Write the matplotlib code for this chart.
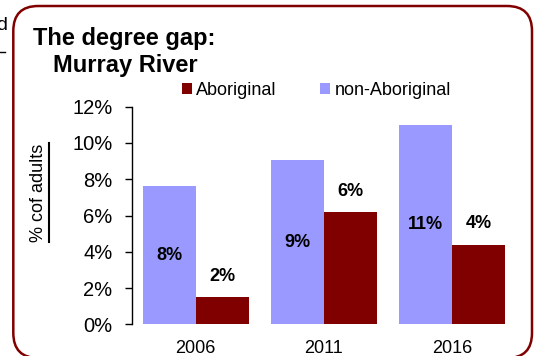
import matplotlib
matplotlib.use("Agg")
import matplotlib.pyplot as plt
import numpy as np
from matplotlib.patches import FancyBboxPatch
from matplotlib.lines import Line2D

plt.rcParams['font.family'] = ['Liberation Sans', 'DejaVu Sans']

years = ['2006', '2011', '2016']
non_aboriginal = [7.6, 9.04, 11.0]
aboriginal = [1.5, 6.19, 4.4]
yticks = [0, 2, 4, 6, 8, 10, 12]

col_non = '#9999ff'
col_ab = '#800000'

W, H = 539, 356
fig = plt.figure(figsize=(W / 100, H / 100), dpi=100)


def px(x, y):
    """pixel position (from top-left) -> figure fraction"""
    return x / W, 1 - y / H


ax = fig.add_axes([131.7 / W, 1 - 324.3 / H, (516 - 131.7) / W, (324.3 - 106.7) / H])

x = np.arange(len(years))
bw = 0.413
b_non = ax.bar(x - bw / 2, non_aboriginal, bw, color=col_non, label='non-Aboriginal')
b_ab = ax.bar(x + bw / 2, aboriginal, bw, color=col_ab, label='Aboriginal')

# value labels: inside the light bars, above the dark ones
for xi, v in zip(x, non_aboriginal):
    ax.text(xi - bw / 2, v / 2, '%d%%' % round(v), ha='center', va='center',
            fontsize=13, fontweight='bold')
for xi, v in zip(x, aboriginal):
    ax.annotate('%d%%' % round(v), (xi + bw / 2, v), xytext=(0, 15),
                textcoords='offset points', ha='center', va='center',
                fontsize=13, fontweight='bold')

ax.set_xlim(-0.5, 2.5)
ax.set_ylim(0, 12)
ax.set_yticks(yticks)
ax.set_yticklabels(['%d%%' % t for t in yticks], fontsize=14.5)
ax.set_xticks(x)
ax.set_xticklabels(years, fontsize=13)
ax.tick_params(axis='x', length=0, pad=11)
ax.tick_params(axis='y', length=5, width=1, pad=9, direction='out')
for side in ['top', 'right', 'bottom']:
    ax.spines[side].set_visible(False)
ax.spines['left'].set_linewidth(1)

# legend above the plot
leg = fig.legend(handles=[b_ab, b_non], labels=['Aboriginal', 'non-Aboriginal'],
                 ncol=2, frameon=False, fontsize=13, loc='center left',
                 bbox_to_anchor=px(182, 90.7), borderpad=0, borderaxespad=0,
                 handlelength=0.55, handleheight=0.55, handletextpad=0.25,
                 columnspacing=2.4)

# titles
fig.text(*px(33, 45), 'The degree gap:', fontsize=17, fontweight='bold',
         ha='left', va='baseline')
fig.text(*px(53, 71.7), 'Murray River', fontsize=17, fontweight='bold',
         ha='left', va='baseline')

# underlined y label
yl = fig.text(*px(38.5, 192.5), '% cof adults', fontsize=13, rotation=90,
              ha='center', va='center')
fig.canvas.draw()
bb = yl.get_window_extent().transformed(fig.transFigure.inverted())
fig.add_artist(Line2D([49 / W, 49 / W], [bb.y0, bb.y1], color='black', lw=1.5,
                      transform=fig.transFigure))

# rounded frame
frame = FancyBboxPatch((0.133, -0.02), 5.32 - 0.133, 3.50 + 0.02,
                       boxstyle='round,pad=0,rounding_size=0.25',
                       transform=fig.dpi_scale_trans, fill=False,
                       ec='#800000', lw=1.8)
fig.add_artist(frame)

# bits of neighbouring content at the left edge
fig.text(*px(7.5, 30), 'd', fontsize=14, ha='right', va='baseline')
fig.add_artist(Line2D([0, 5 / W], [1 - 51.7 / H] * 2, color='black', lw=1,
                      transform=fig.transFigure))

fig.savefig('out.png', dpi=100)
